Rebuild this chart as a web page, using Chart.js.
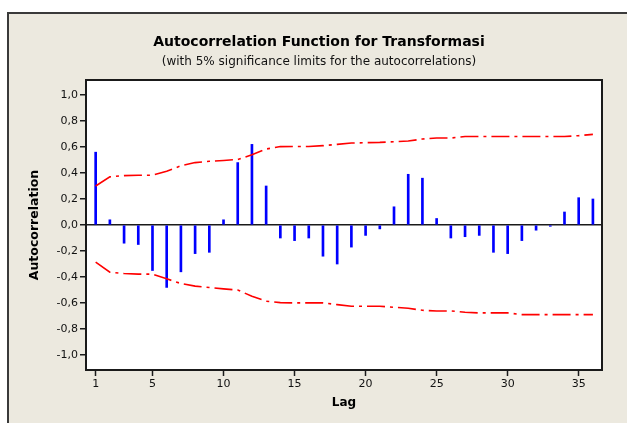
<!DOCTYPE html>
<html>
<head>
<meta charset="utf-8">
<script src="https://cdn.jsdelivr.net/npm/chart.js@4.4.1/dist/chart.umd.min.js"></script>
<style>
  body { margin: 0; background: #fff; }
  canvas { display: block; }
</style>
</head>
<body>
<canvas id="acfChart" width="627" height="423"></canvas>
<script>
// lags 1..36
var lags = [1, 2, 3, 4, 5, 6, 7, 8, 9, 10, 11, 12, 13, 14, 15, 16, 17, 18,
  19, 20, 21, 22, 23, 24, 25, 26, 27, 28, 29, 30, 31, 32, 33, 34, 35, 36];
// autocorrelation values
var acf = [0.56, 0.04, -0.14, -0.15, -0.35, -0.48, -0.36, -0.22, -0.21, 0.04, 0.48, 0.62,
  0.30, -0.10, -0.12, -0.10, -0.24, -0.30, -0.17, -0.08, -0.03, 0.14, 0.39, 0.36,
  0.05, -0.10, -0.09, -0.08, -0.21, -0.22, -0.12, -0.04, -0.01, 0.10, 0.21, 0.20];
// 5% significance limits
var upperLimit = [0.30, 0.37, 0.38, 0.383, 0.383, 0.414, 0.455, 0.48, 0.49, 0.496, 0.504, 0.54,
  0.584, 0.603, 0.604, 0.604, 0.61, 0.62, 0.63, 0.633, 0.635, 0.64, 0.646, 0.661,
  0.669, 0.669, 0.68, 0.68, 0.68, 0.68, 0.68, 0.68, 0.68, 0.68, 0.687, 0.697];
var lowerLimit = [-0.285, -0.363, -0.373, -0.378, -0.378, -0.414, -0.45, -0.47, -0.481, -0.491, -0.50, -0.548,
  -0.586, -0.597, -0.599, -0.599, -0.599, -0.612, -0.625, -0.625, -0.625, -0.633, -0.64, -0.656,
  -0.661, -0.661, -0.671, -0.676, -0.676, -0.676, -0.689, -0.689, -0.689, -0.689, -0.689, -0.689];
var xTicks = [1, 5, 10, 15, 20, 25, 30, 35];
var yTicks = [-1.0, -0.8, -0.6, -0.4, -0.2, 0.0, 0.2, 0.4, 0.6, 0.8, 1.0];

var title = "Autocorrelation Function for Transformasi";
var subtitle = "(with 5% significance limits for the autocorrelations)";

function pts(ys) {
  var out = [];
  for (var i = 0; i < lags.length; i++) {
    out.push({x: lags[i], y: ys[i]});
  }
  return out;
}

var FONT = "'DejaVu Sans', sans-serif";

// window background, titles and plot frame
var frame = {
  id: 'frame',
  beforeDraw: function(chart) {
    var c = chart.ctx, a = chart.chartArea;
    c.save();
    c.fillStyle = '#ffffff';
    c.fillRect(0, 0, chart.width, chart.height);
    c.fillStyle = '#ece9df';
    c.fillRect(8, 13, chart.width - 8, chart.height - 13);
    c.strokeStyle = '#3a3a3a';
    c.lineWidth = 2;
    c.beginPath();
    c.moveTo(8, chart.height);
    c.lineTo(8, 13);
    c.lineTo(chart.width, 13);
    c.stroke();
    c.fillStyle = '#ffffff';
    c.fillRect(a.left, a.top, a.right - a.left, a.bottom - a.top);
    c.fillStyle = '#000';
    c.textAlign = 'center';
    c.textBaseline = 'middle';
    c.font = "bold 14px " + FONT;
    c.fillText(title, 319, 42);
    c.fillStyle = '#111';
    c.font = "12px " + FONT;
    c.fillText(subtitle, 319, 62);
    c.restore();
  },
  afterDraw: function(chart) {
    var c = chart.ctx, a = chart.chartArea;
    c.save();
    c.strokeStyle = '#1a1a1a';
    c.lineWidth = 2;
    c.strokeRect(a.left, a.top, a.right - a.left, a.bottom - a.top);
    c.restore();
  }
};

var ctx = document.getElementById('acfChart').getContext('2d');
var chart = new Chart(ctx, {
  type: 'bar',
  data: {
    datasets: [
      {
        type: 'line',
        label: 'upper',
        data: pts(upperLimit),
        borderColor: '#ff0000',
        borderWidth: 1.6,
        borderDash: [18, 5, 3, 5],
        pointRadius: 0,
        fill: false,
        order: 0
      },
      {
        type: 'line',
        label: 'lower',
        data: pts(lowerLimit),
        borderColor: '#ff0000',
        borderWidth: 1.6,
        borderDash: [18, 5, 3, 5],
        pointRadius: 0,
        fill: false,
        order: 0
      },
      {
        type: 'bar',
        label: 'acf',
        data: pts(acf),
        backgroundColor: '#0000ff',
        borderWidth: 0,
        barThickness: 2,
        order: 1
      }
    ]
  },
  options: {
    responsive: false,
    animation: false,
    events: [],
    layout: { padding: { left: 8, top: 80, right: 25, bottom: 0 } },
    plugins: {
      legend: { display: false },
      tooltip: { enabled: false },
      title: { display: false }
    },
    scales: {
      x: {
        type: 'linear',
        min: 0.32,
        max: 36.64,
        offset: false,
        grid: { display: true, drawOnChartArea: false, drawTicks: true, tickLength: 6, tickColor: '#1a1a1a', tickWidth: 1.5, offset: false },
        border: { display: false },
        afterBuildTicks: function(scale) {
          scale.ticks = xTicks.map(function(v) { return {value: v}; });
        },
        afterFit: function(scale) { scale.height = 53; },
        ticks: {
          padding: 2,
          color: '#111',
          font: { family: FONT, size: 11 },
          maxRotation: 0,
          callback: function(v) { return String(v); }
        },
        title: {
          display: true,
          text: 'Lag',
          color: '#000',
          font: { family: FONT, size: 12, weight: 'bold' },
          padding: { top: 0, bottom: 12.8 }
        }
      },
      y: {
        min: -1.115,
        max: 1.115,
        grid: {
          drawOnChartArea: true,
          drawTicks: true,
          tickLength: 6,
          tickColor: '#1a1a1a',
          tickWidth: 1.5,
          lineWidth: 1.5,
          color: function(c) { return (c.tick && Math.abs(c.tick.value) < 1e-9) ? '#1a1a1a' : 'rgba(0,0,0,0)'; }
        },
        border: { display: false },
        afterBuildTicks: function(scale) {
          scale.ticks = yTicks.map(function(v) { return {value: v}; });
        },
        afterFit: function(scale) { scale.width = 78; },
        ticks: {
          padding: 2,
          color: '#111',
          font: { family: FONT, size: 11 },
          callback: function(v) {
            var s = (Math.round(v * 10) / 10).toFixed(1);
            if (s === '-0.0') s = '0.0';
            return s.replace('.', ',');
          }
        },
        title: {
          display: true,
          text: 'Autocorrelation',
          color: '#000',
          font: { family: FONT, size: 12.5, weight: 'bold' },
          padding: { top: 19.5, bottom: 0 }
        }
      }
    }
  },
  plugins: [frame]
});
</script>
</body>
</html>
